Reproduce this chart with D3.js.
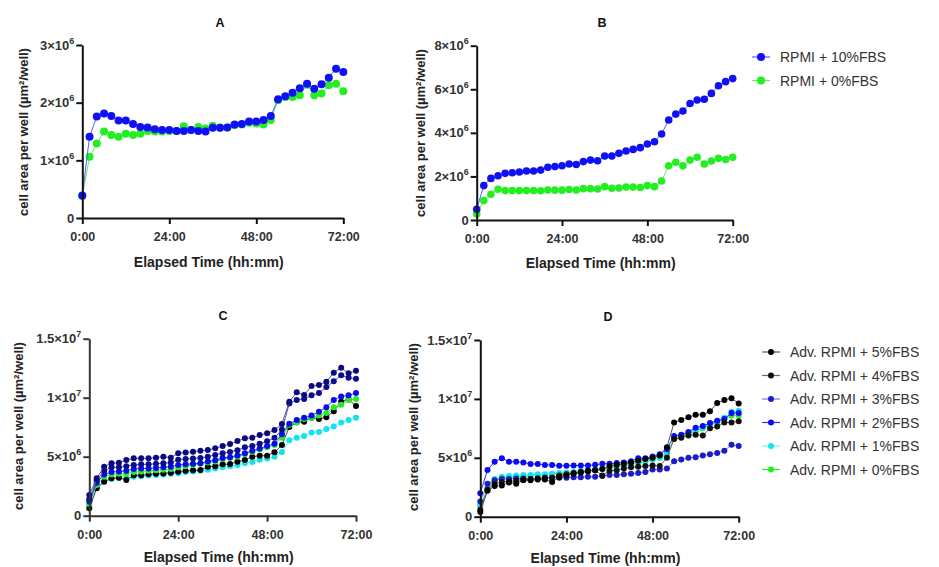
<!DOCTYPE html>
<html>
<head>
<meta charset="utf-8">
<script src="https://cdn.jsdelivr.net/npm/d3@7"></script>
<style>
  body { margin: 0; background: #fff; }
  svg { display: block; font-family: "Liberation Sans", Arial, sans-serif; }
</style>
</head>
<body>
<div id="container"></div>
<script>
// time points, every 2 h from 0:00 to 72:00
const hours = d3.range(0, 73, 2);
const xTicks = [0, 24, 48, 72];
const xTickLabels = ["0:00", "24:00", "48:00", "72:00"];

// Panel A (units of 1e6)
const aNames = ["RPMI + 10%FBS", "RPMI + 0%FBS"];
const a10 = [0.39, 1.41, 1.76, 1.81, 1.77, 1.69, 1.69, 1.63, 1.58, 1.57, 1.54, 1.525, 1.525, 1.51, 1.51, 1.525, 1.51, 1.50, 1.565, 1.565, 1.57, 1.62, 1.63, 1.675, 1.675, 1.70, 1.77, 2.06, 2.11, 2.17, 2.25, 2.33, 2.24, 2.32, 2.43, 2.59, 2.53];
const a0 = [0.38, 1.06, 1.29, 1.50, 1.44, 1.41, 1.46, 1.44, 1.46, 1.51, 1.50, 1.50, 1.51, 1.51, 1.59, 1.525, 1.58, 1.55, 1.60, 1.57, 1.57, 1.61, 1.62, 1.65, 1.64, 1.62, 1.70, 2.04, 2.10, 2.10, 2.13, 2.31, 2.13, 2.16, 2.30, 2.33, 2.20];

// Panel B (units of 1e6)
const b10 = [0.49, 1.58, 1.91, 2.03, 2.14, 2.17, 2.20, 2.25, 2.25, 2.29, 2.42, 2.45, 2.49, 2.57, 2.55, 2.68, 2.75, 2.72, 2.94, 2.94, 3.06, 3.17, 3.24, 3.32, 3.49, 3.59, 3.95, 4.59, 4.86, 5.00, 5.35, 5.51, 5.54, 5.81, 6.16, 6.35, 6.49];
const b0 = [0.28, 0.89, 1.18, 1.41, 1.35, 1.35, 1.35, 1.35, 1.35, 1.34, 1.38, 1.37, 1.37, 1.40, 1.38, 1.44, 1.44, 1.42, 1.53, 1.46, 1.47, 1.51, 1.51, 1.49, 1.58, 1.53, 1.79, 2.49, 2.65, 2.49, 2.75, 2.88, 2.57, 2.71, 2.83, 2.78, 2.88];

// Panel C (units of 1e6)
const c1 = [1.75, 3.17, 4.15, 4.44, 4.49, 4.72, 4.86, 4.86, 4.86, 4.92, 5.0, 4.92, 5.29, 5.35, 5.42, 5.5, 5.57, 5.71, 5.9, 6.07, 6.33, 6.56, 6.6, 6.84, 6.98, 7.26, 7.77, 9.66, 10.46, 10.23, 10.99, 11.08, 11.36, 12.12, 12.54, 12.07, 12.29];
const c2 = [1.4, 3.0, 3.8, 4.1, 4.1, 4.2, 4.3, 4.35, 4.35, 4.4, 4.45, 4.5, 4.75, 4.8, 4.85, 4.9, 5.0, 5.15, 5.3, 5.4, 5.55, 5.8, 5.9, 6.1, 6.3, 6.6, 7.3, 9.5, 9.8, 9.9, 10.2, 10.4, 10.9, 11.4, 11.9, 11.7, 11.6];
const c3 = [1.2, 2.8, 3.5, 3.7, 3.75, 3.8, 3.95, 4.0, 4.0, 4.05, 4.1, 4.15, 4.3, 4.35, 4.4, 4.45, 4.6, 4.7, 4.9, 4.95, 5.1, 5.3, 5.5, 5.7, 5.9, 6.1, 6.9, 7.8, 8.1, 8.3, 8.5, 8.8, 9.2, 9.8, 10.1, 10.2, 10.4];
const c4 = [1.0, 2.6, 3.3, 3.5, 3.55, 3.55, 3.7, 3.75, 3.8, 3.85, 3.9, 3.95, 4.1, 4.2, 4.3, 4.4, 4.5, 4.6, 4.8, 4.9, 5.0, 5.2, 5.4, 5.6, 5.8, 6.0, 6.6, 7.7, 7.9, 8.2, 8.3, 8.5, 8.7, 9.2, 9.4, 9.8, 9.9];
const c5 = [0.63, 2.32, 2.88, 3.17, 3.22, 3.03, 3.42, 3.42, 3.51, 3.55, 3.57, 3.65, 3.73, 3.8, 3.85, 3.87, 4.15, 4.2, 4.35, 4.38, 4.58, 4.72, 5.0, 5.08, 5.08, 5.37, 5.99, 7.52, 7.91, 7.97, 8.31, 8.2, 8.34, 8.85, 9.66, 9.86, 9.3];
const c6 = [0.9, 2.4, 2.9, 3.1, 3.2, 3.2, 3.3, 3.35, 3.4, 3.45, 3.5, 3.55, 3.6, 3.7, 3.75, 3.8, 3.9, 4.0, 4.1, 4.2, 4.3, 4.45, 4.55, 4.75, 4.85, 5.0, 5.4, 6.4, 6.6, 6.75, 7.05, 7.1, 7.35, 7.55, 7.9, 8.1, 8.3];

// Panel D (units of 1e6)
const dNames = ["Adv. RPMI + 5%FBS", "Adv. RPMI + 4%FBS", "Adv. RPMI + 3%FBS", "Adv. RPMI + 2%FBS", "Adv. RPMI + 1%FBS", "Adv. RPMI + 0%FBS"];
const d5 = [0.4, 2.2, 2.6, 2.65, 2.9, 2.8, 3.1, 3.1, 3.15, 3.15, 2.95, 3.35, 3.5, 3.65, 3.75, 3.85, 3.95, 4.05, 4.3, 4.4, 4.5, 4.6, 4.75, 4.9, 5.0, 5.2, 5.9, 8.0, 8.2, 8.45, 8.65, 8.65, 8.95, 9.65, 9.9, 10.05, 9.6];
const d4 = [0.6, 2.3, 2.8, 2.95, 3.0, 3.05, 3.2, 3.2, 3.25, 3.3, 3.3, 3.5, 3.6, 3.7, 3.8, 3.9, 3.95, 3.5, 3.9, 3.95, 4.1, 4.2, 4.25, 4.3, 4.35, 4.3, 5.0, 6.6, 6.7, 6.9, 6.95, 6.9, 7.5, 7.65, 8.0, 8.0, 8.1];
const d3s = [1.3, 2.8, 3.1, 3.2, 3.2, 3.25, 3.25, 3.2, 3.25, 3.3, 3.3, 3.3, 3.3, 3.35, 3.35, 3.4, 3.4, 3.45, 3.55, 3.55, 3.6, 3.65, 3.7, 3.8, 4.0, 4.0, 4.1, 4.7, 4.85, 5.0, 5.05, 5.2, 5.3, 5.4, 5.6, 6.1, 6.0];
const d2 = [2.0, 3.97, 4.67, 4.96, 4.67, 4.67, 4.6, 4.48, 4.48, 4.39, 4.39, 4.33, 4.33, 4.35, 4.35, 4.35, 4.4, 4.5, 4.5, 4.55, 4.6, 4.7, 4.96, 4.96, 5.1, 5.3, 5.73, 6.86, 6.95, 7.2, 7.55, 7.7, 7.95, 8.15, 8.3, 8.8, 8.8];
const d1 = [1.0, 2.5, 3.2, 3.4, 3.45, 3.5, 3.55, 3.55, 3.6, 3.6, 3.65, 3.7, 3.75, 3.8, 3.9, 3.95, 4.0, 4.1, 4.2, 4.3, 4.4, 4.5, 4.6, 4.75, 4.9, 5.0, 5.4, 6.7, 6.9, 7.1, 7.4, 7.6, 7.9, 8.1, 8.4, 8.9, 9.0];
const d0 = [0.9, 2.4, 3.1, 3.3, 3.35, 3.4, 3.45, 3.5, 3.5, 3.55, 3.6, 3.65, 3.7, 3.75, 3.85, 3.9, 3.95, 4.05, 4.15, 4.25, 4.35, 4.45, 4.55, 4.7, 4.85, 5.0, 5.3, 6.6, 6.8, 7.0, 7.3, 7.5, 7.8, 8.0, 8.3, 8.6, 8.6];

const width = 939;
const height = 567;

const svg = d3.create("svg").attr("width", width).attr("height", height);

function drawPanel(p) {
  const x = d3.scaleLinear().domain([0, 72]).range([p.left, p.right]);
  const y = d3.scaleLinear().domain([0, p.yMax]).range([p.bottom, p.top]);
  const g = svg.append("g");

  // series, drawn first to last
  p.series.forEach((s) => {
    const pts = hours.map((h, i) => [h, s.values[i]]);
    g.append("path")
      .attr("d", d3.line().x((d) => x(d[0])).y((d) => y(d[1]))(pts))
      .attr("fill", "none")
      .attr("stroke", s.line)
      .attr("stroke-width", 1);
    g.append("g")
      .selectAll("circle")
      .data(pts)
      .join("circle")
      .attr("cx", (d) => x(d[0]))
      .attr("cy", (d) => y(d[1]))
      .attr("r", p.r)
      .attr("fill", s.color);
  });

  // axes
  const xa = g.append("g")
    .attr("transform", `translate(0,${p.bottom})`)
    .call(d3.axisBottom(x).tickValues(xTicks).tickFormat((d, i) => xTickLabels[i]).tickSize(6).tickSizeOuter(0));
  const ya = g.append("g")
    .attr("transform", `translate(${p.left},0)`)
    .call(d3.axisLeft(y).tickValues(p.yTicks).tickFormat("").tickSize(6).tickSizeOuter(0));
  [xa, ya].forEach((a) => {
    a.select(".domain").attr("stroke", p.axisColor).attr("stroke-width", 2);
    a.selectAll(".tick line").attr("stroke", p.axisColor).attr("stroke-width", 2);
  });
  xa.selectAll("text")
    .attr("font-size", 12.5).attr("font-weight", "bold").attr("fill", "#333")
    .attr("font-family", "'Liberation Sans', Arial, sans-serif")
    .attr("dy", null).attr("y", 23);

  // y tick labels with superscript exponent
  p.yTicks.forEach((v, i) => {
    const t = g.append("text")
      .attr("x", p.left - 8)
      .attr("y", y(v) + 4.5)
      .attr("text-anchor", "end")
      .attr("font-size", 13)
      .attr("font-weight", "bold")
      .attr("fill", "#333");
    const lab = p.yLabels[i];
    if (lab[1]) {
      t.append("tspan").text(lab[0]);
      t.append("tspan").attr("font-size", 9).attr("dy", -6).text(lab[1]);
    } else {
      t.text(lab[0]);
    }
  });

  // panel title
  svg.append("text")
    .attr("x", p.titleX).attr("y", p.titleY)
    .attr("text-anchor", "middle")
    .attr("font-size", 12.5).attr("font-weight", "bold").attr("fill", "#111")
    .text(p.title);

  // axis titles
  svg.append("text")
    .attr("x", (p.left + p.right) / 2 - 4).attr("y", p.xLabelY)
    .attr("text-anchor", "middle")
    .attr("font-size", 14).attr("font-weight", "bold").attr("fill", "#222")
    .text("Elapsed Time (hh:mm)");
  svg.append("text")
    .attr("transform", `translate(${p.yLabelX},${p.yLabelCy}) rotate(-90)`)
    .attr("text-anchor", "middle")
    .attr("font-size", 13).attr("font-weight", "bold").attr("fill", "#222")
    .text("cell area per well (µm²/well)");
}

function drawLegend(items, x0, y0, step, r) {
  items.forEach((it, i) => {
    const yy = y0 + i * step;
    svg.append("line")
      .attr("x1", x0).attr("x2", x0 + 18).attr("y1", yy).attr("y2", yy)
      .attr("stroke", it.line).attr("stroke-width", 1.2);
    svg.append("circle").attr("cx", x0 + 9).attr("cy", yy).attr("r", r).attr("fill", it.color);
    svg.append("text")
      .attr("x", x0 + 28).attr("y", yy + 5)
      .attr("font-size", 14).attr("fill", "#333")
      .text(it.name);
  });
}

const blue = { color: "#1010f5", line: "#5a5aff" };
const green = { color: "#22ee22", line: "#66ee66" };

drawPanel({
  title: "A", titleX: 220, titleY: 27,
  left: 82.3, right: 343.3, top: 45, bottom: 218, yMax: 3,
  yTicks: [0, 1, 2, 3], yLabels: [["0"], ["1×10", "6"], ["2×10", "6"], ["3×10", "6"]],
  xLabelY: 267, yLabelX: 28, yLabelCy: 132, r: 4, axisColor: "#111",
  series: [
    { values: a0, ...green },
    { values: a10, ...blue },
  ],
});

drawPanel({
  title: "B", titleX: 602, titleY: 27,
  left: 476.7, right: 732.7, top: 45.7, bottom: 220, yMax: 8,
  yTicks: [0, 2, 4, 6, 8], yLabels: [["0"], ["2×10", "6"], ["4×10", "6"], ["6×10", "6"], ["8×10", "6"]],
  xLabelY: 268, yLabelX: 425, yLabelCy: 133, r: 3.8, axisColor: "#111",
  series: [
    { values: b0, ...green },
    { values: b10, ...blue },
  ],
});

drawPanel({
  title: "C", titleX: 223, titleY: 320,
  left: 89.3, right: 356, top: 338.7, bottom: 515.7, yMax: 15,
  yTicks: [0, 5, 10, 15], yLabels: [["0"], ["5×10", "6"], ["1×10", "7"], ["1.5×10", "7"]],
  xLabelY: 562, yLabelX: 23, yLabelCy: 426, r: 3, axisColor: "#333",
  series: [
    { values: c6, color: "#11e4ee", line: "#66f0f5" },
    { values: c5, color: "#000", line: "#444" },
    { values: c4, color: "#22ee22", line: "#33ee33" },
    { values: c3, color: "#0a0af0", line: "#3a3af5" },
    { values: c2, color: "#0c0c90", line: "#5555b0" },
    { values: c1, color: "#0a0a80", line: "#5555a8" },
  ],
});

const dStyles = [
  { color: "#000", line: "#555" },
  { color: "#111", line: "#666" },
  { color: "#1c1cc8", line: "#7a7ad8" },
  { color: "#0a0af5", line: "#2a2aff" },
  { color: "#11e4ee", line: "#77f0f5" },
  { color: "#22ee22", line: "#22ee22" },
];
const dValues = [d5, d4, d3s, d2, d1, d0];

drawPanel({
  title: "D", titleX: 608, titleY: 321,
  left: 480.3, right: 738.7, top: 340, bottom: 516.7, yMax: 15,
  yTicks: [0, 5, 10, 15], yLabels: [["0"], ["5×10", "6"], ["1×10", "7"], ["1.5×10", "7"]],
  xLabelY: 563, yLabelX: 418, yLabelCy: 427, r: 3, axisColor: "#111",
  series: dValues.map((v, i) => ({ values: v, ...dStyles[i] })).reverse(),
});

drawLegend(aNames.map((n, i) => ({ name: n, ...(i === 0 ? blue : green) })), 752, 57, 23.5, 4);
drawLegend(dNames.map((n, i) => ({ name: n, ...dStyles[i] })), 762, 352, 23.5, 3);

document.getElementById("container").append(svg.node());
</script>
</body>
</html>
